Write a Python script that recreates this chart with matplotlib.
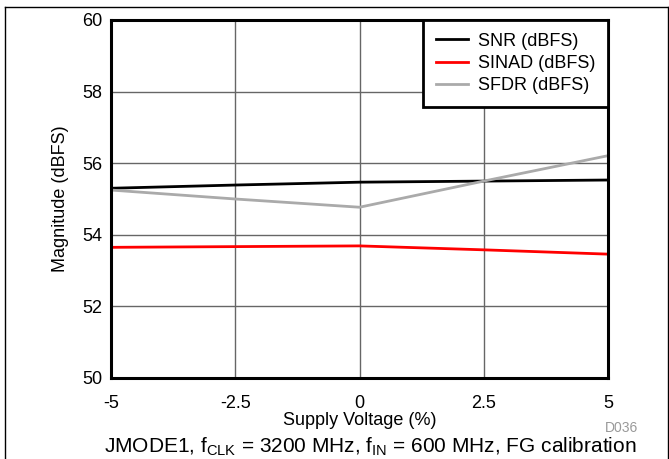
import matplotlib
matplotlib.use("Agg")
import matplotlib.pyplot as plt
from matplotlib.lines import Line2D

plt.rcParams['font.family'] = ['Liberation Sans', 'DejaVu Sans']
plt.rcParams['mathtext.fontset'] = 'custom'
plt.rcParams['mathtext.rm'] = 'Liberation Sans'
plt.rcParams['mathtext.it'] = 'Liberation Sans:italic'
plt.rcParams['mathtext.bf'] = 'Liberation Sans:bold'

supply = [-5, -2.5, 0, 2.5, 5]
snr = [55.30, 55.39, 55.47, 55.50, 55.53]
sinad = [53.65, 53.67, 53.69, 53.58, 53.46]
sfdr = [55.25, 55.00, 54.77, 55.50, 56.21]
xticks = [-5, -2.5, 0, 2.5, 5]
xticklabels = ['-5', '-2.5', '0', '2.5', '5']
yticks = [50, 52, 54, 56, 58, 60]

W, H = 669, 459
fig = plt.figure(figsize=(W / 100, H / 100), dpi=100)
ax = fig.add_axes([111 / W, 1 - 378 / H, (608 - 111) / W, (378 - 20) / H])

ax.plot(supply, snr, color='black', lw=2, label='SNR (dBFS)')
ax.plot(supply, sinad, color='#ff0000', lw=2, label='SINAD (dBFS)')
ax.plot(supply, sfdr, color='#aaaaaa', lw=2, label='SFDR (dBFS)')

ax.set_xlim(-5, 5)
ax.set_ylim(50, 60)
ax.set_xticks(xticks)
ax.set_xticklabels(xticklabels)
ax.set_yticks(yticks)
ax.grid(True, color='#666666', lw=1)
ax.set_axisbelow(True)
ax.tick_params(length=0, labelsize=13)
ax.tick_params(axis='x', pad=12)
ax.tick_params(axis='y', pad=6)
for s in ax.spines.values():
    s.set_linewidth(2.2)
    s.set_color('black')

ax.set_xlabel('Supply Voltage (%)', fontsize=13, labelpad=0)
ax.set_ylabel('Magnitude (dBFS)', fontsize=13, labelpad=10)

leg = ax.legend(loc='upper right', fontsize=13, frameon=True, fancybox=False,
                borderaxespad=0, handlelength=1.8, handletextpad=0.55,
                labelspacing=0.3, borderpad=0.7)
leg.get_frame().set_edgecolor('black')
leg.get_frame().set_linewidth(2)
leg.get_frame().set_alpha(1)

fig.text(638 / W, 1 - 428 / H, 'D036', fontsize=10, color='#999999', ha='right', va='center')
fig.text(370 / W, 1 - 447 / H,
         r'JMODE1, f$_{\mathrm{CLK}}$ = 3200 MHz, f$_{\mathrm{IN}}$ = 600 MHz, FG calibration',
         fontsize=15, ha='center', va='center')

fig.add_artist(Line2D([5 / W, 1.0], [1 - 7 / H, 1 - 7 / H], transform=fig.transFigure, color='black', lw=1))
fig.add_artist(Line2D([5 / W, 5 / W], [0, 1 - 7 / H], transform=fig.transFigure, color='black', lw=1))
fig.add_artist(Line2D([667.5 / W, 667.5 / W], [0, 1 - 7 / H], transform=fig.transFigure, color='black', lw=1))

fig.savefig('out.png', dpi=100)
